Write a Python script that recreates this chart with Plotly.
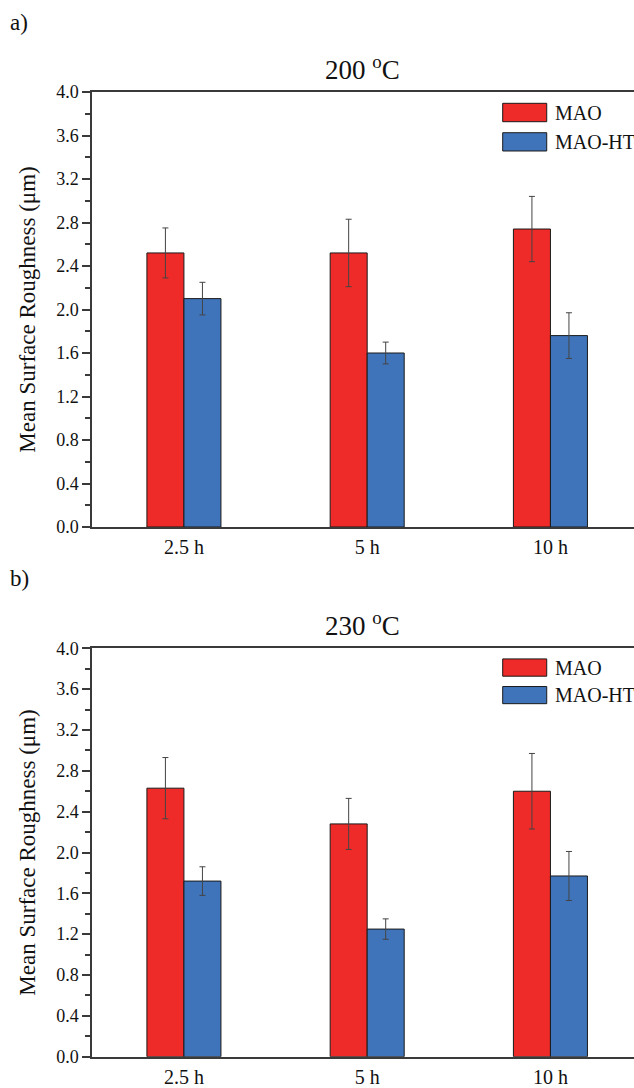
import plotly.graph_objects as go

categories = ["2.5 h", "5 h", "10 h"]
series_names = ["MAO", "MAO-HT"]

mao_200 = [2.52, 2.52, 2.74]
mao_200_err = [0.23, 0.31, 0.30]
ht_200 = [2.10, 1.60, 1.76]
ht_200_err = [0.15, 0.10, 0.21]

mao_230 = [2.63, 2.28, 2.60]
mao_230_err = [0.30, 0.25, 0.37]
ht_230 = [1.72, 1.25, 1.77]
ht_230_err = [0.14, 0.10, 0.24]

panel_titles = ["200 <sup>o</sup>C", "230 <sup>o</sup>C"]
panel_labels = ["a)", "b)"]
y_ticks = [0.0, 0.4, 0.8, 1.2, 1.6, 2.0, 2.4, 2.8, 3.2, 3.6, 4.0]

RED = "#EE2B28"
BLUE = "#3F74BA"
EDGE = "#1a1a1a"
AXC = "#3a3a3a"
FONT = "Liberation Serif"

W, H = 634, 1088
x_left = 92.3
panels = [
    dict(top=92.0, bottom=527.0, mao=mao_200, mao_e=mao_200_err, ht=ht_200, ht_e=ht_200_err),
    dict(top=648.3, bottom=1056.7, mao=mao_230, mao_e=mao_230_err, ht=ht_230, ht_e=ht_230_err),
]

fig = go.Figure()
layout = dict(
    template="none",
    width=W, height=H, autosize=False,
    margin=dict(l=0, r=0, t=0, b=0, pad=0),
    paper_bgcolor="white", plot_bgcolor="white",
    barmode="group", bargap=0.596, bargroupgap=0.0,
    showlegend=False,
    font=dict(family=FONT, color="#111111"),
)

annotations = []
shapes = []
for i, p in enumerate(panels):
    sfx = "" if i == 0 else str(i + 1)
    xa, ya = "x" + sfx, "y" + sfx
    for name, vals, errs, col in [(series_names[0], p["mao"], p["mao_e"], RED),
                                  (series_names[1], p["ht"], p["ht_e"], BLUE)]:
        fig.add_trace(go.Bar(
            x=categories, y=vals, name=name, xaxis=xa, yaxis=ya,
            marker=dict(color=col, line=dict(color=EDGE, width=1)),
            error_y=dict(type="data", array=errs, visible=True,
                         color="#444444", thickness=1, width=3),
        ))
    ydom = [(H - p["bottom"]) / H, (H - p["top"]) / H]
    layout["xaxis" + sfx] = dict(
        domain=[x_left / W, 1.0], anchor=ya, automargin=False,
        type="category", range=[-0.5, 2.456],
        showline=True, linecolor=AXC, linewidth=2, mirror=True,
        ticks="", showgrid=False, zeroline=False,
        tickfont=dict(family=FONT, size=20, color="#111111"),
        ticklabelstandoff=1,
    )
    layout["yaxis" + sfx] = dict(
        domain=ydom, anchor=xa, automargin=False,
        range=[0, 4.0], tickmode="array", tickvals=y_ticks,
        ticktext=[f"{v:.1f}" for v in y_ticks],
        showline=True, linecolor=AXC, linewidth=2, mirror=False,
        ticks="outside", ticklen=8, tickwidth=1.5, tickcolor=AXC,
        minor=dict(dtick=0.2, ticks="outside", ticklen=5, tickwidth=1.5, tickcolor=AXC),
        showgrid=False, zeroline=False,
        tickfont=dict(family=FONT, size=18, color="#111111"),
        title=dict(text="Mean Surface Roughness (\u03bcm)", standoff=14,
                   font=dict(family=FONT, size=23, color="#111111")),
    )
    # panel title and label
    annotations.append(dict(text=panel_titles[i], xref="paper", yref="paper",
                            x=362 / W, y=(H - (p["top"] - 24)) / H,
                            xanchor="center", yanchor="middle", showarrow=False,
                            font=dict(family=FONT, size=27, color="#111111")))
    annotations.append(dict(text=panel_labels[i], xref="paper", yref="paper",
                            x=8 / W, y=(H - (p["top"] - 70)) / H,
                            xanchor="left", yanchor="middle", showarrow=False,
                            font=dict(family=FONT, size=23, color="#111111")))
    # custom legend
    for (y0, y1), name, col in [((0.9317, 0.974), series_names[0], RED),
                                ((0.8644, 0.9064), series_names[1], BLUE)]:
        shapes.append(dict(type="rect", xref=xa + " domain", yref=ya + " domain",
                           x0=0.7576, x1=0.8389, y0=y0, y1=y1,
                           fillcolor=col, line=dict(color=EDGE, width=1)))
        annotations.append(dict(text=name, xref=xa + " domain", yref=ya + " domain",
                                x=0.8505, y=(y0 + y1) / 2, xanchor="left", yanchor="middle",
                                showarrow=False,
                                font=dict(family=FONT, size=20, color="#111111")))

layout["annotations"] = annotations
layout["shapes"] = shapes
fig.update_layout(**layout)
fig.write_html("out.html",
               config={"displayModeBar": False},
               post_script="document.body.style.margin='0';document.body.style.overflow='hidden';")
